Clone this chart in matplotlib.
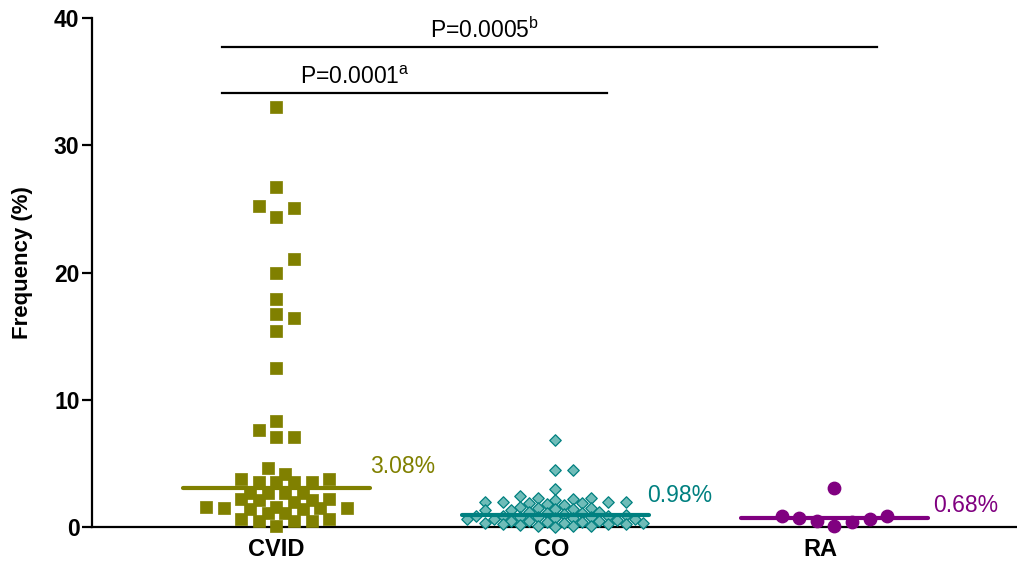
import numpy as np
import matplotlib
matplotlib.use("Agg")
import matplotlib.pyplot as plt

# ---------------- data ----------------
categories = ["CVID", "CO", "RA"]

cvid_values = [33.0, 26.7, 25.2, 25.1, 24.4, 21.1, 20.0, 17.9, 16.7, 16.4, 15.4, 12.5,
               8.3, 7.6, 7.1, 7.1, 4.6, 4.2, 3.8, 3.5, 3.5, 3.5, 3.5, 3.8,
               2.7, 2.7, 2.7, 2.7, 2.2, 2.1, 2.1, 2.2, 2.0, 1.6, 1.5, 1.5,
               1.4, 1.5, 1.6, 1.4, 1.1, 1.1, 0.6, 0.5, 0.5, 0.6, 0.5, 0.1]

co_values = [6.8, 4.5, 4.5, 3.0, 2.4, 2.3, 2.3, 2.2, 2.1, 2.0, 2.0, 2.0, 2.0, 1.9, 1.9,
             1.8, 1.7, 1.6, 1.5, 1.5, 1.4, 1.4, 1.3, 1.3, 1.2, 1.2, 1.1, 1.1, 1.0,
             0.95, 0.9, 0.9, 0.85, 0.8, 0.8, 0.75, 0.7, 0.7, 0.65, 0.6, 0.6, 0.55, 0.5,
             0.5, 0.45, 0.4, 0.4, 0.35, 0.3, 0.3, 0.25, 0.2, 0.2, 0.15, 0.1, 0.1, 0.05, 0.0]

ra_values = [0.86, 0.7, 0.5, 3.06, 0.1, 0.4, 0.6, 0.86]

medians = [3.08, 0.98, 0.68]
median_labels = ["3.08%", "0.98%", "0.68%"]
yticks = [0, 10, 20, 30, 40]
ylabel = "Frequency (%)"
p_labels = [r"P=0.0001$^{\mathrm{a}}$", r"P=0.0005$^{\mathrm{b}}$"]

# ---------------- style ----------------
plt.rcParams['font.family'] = ['Liberation Sans', 'DejaVu Sans']
plt.rcParams['mathtext.fontset'] = 'custom'
plt.rcParams['mathtext.rm'] = 'Liberation Sans'
plt.rcParams['mathtext.it'] = 'Liberation Sans:italic'
plt.rcParams['mathtext.bf'] = 'Liberation Sans:bold'

olive = "#808000"
teal = "#008080"
teal_fill = "#6fbcb8"
purple = "#800080"

fig = plt.figure(figsize=(10.17, 5.65), dpi=100)
ax = fig.add_axes([92/1017, 38/565, 925/1017, 509/565])
tick_pos = [0, 1.0, 1.976]        # category label positions
group_pos = [0, 1.013, 2.027]     # centres of the point clouds
ax.set_xlim(-0.67, 2.69)
ax.set_ylim(0, 40)

# pixel scale factors
fig.canvas.draw()
p0 = ax.transData.transform((0, 0))
p1 = ax.transData.transform((1, 1))
px_x = p1[0] - p0[0]
px_y = p1[1] - p0[1]


def swarm(values, step_px, h_col, h_half):
    """Greedy beeswarm on a half-step grid; returns x offsets in data units.
    Points in the same column need h_col pixels of vertical room,
    points half a step apart need h_half."""
    vals = np.asarray(values, dtype=float)
    order = np.argsort(vals, kind="stable")
    placed = []
    offs = np.zeros(len(vals))
    cand = [0.0]
    for k in range(1, 30):
        cand += [k, -k, k - 0.5, -(k - 0.5)]
    for i in order:
        y = vals[i] * px_y
        for k in cand:
            x = k * step_px
            ok = True
            for (xx, yy) in placed:
                dx = abs(xx - x)
                dy = abs(yy - y)
                if dx < step_px * 0.25 and dy < h_col:
                    ok = False
                    break
                if dx < step_px * 0.99 and dy < h_half:
                    ok = False
                    break
            if ok:
                placed.append((x, y))
                offs[i] = x / px_x
                break
    return offs


step = 17.6
cv_off = swarm(cvid_values, step, 15, 6)
co_off = swarm(co_values, step, 8, 3.5)
ra_off = swarm(ra_values, step, 12, 12)

ax.scatter(group_pos[0] + cv_off, cvid_values, marker='s', s=82, color=olive,
           edgecolor=olive, linewidth=0.5, zorder=3, clip_on=False)
ax.scatter(group_pos[1] + co_off, co_values, marker='D', s=34, facecolor=teal_fill,
           edgecolor=teal, linewidth=0.9, zorder=3, clip_on=False)
ax.scatter(group_pos[2] + ra_off, ra_values, marker='o', s=80, color=purple,
           zorder=3, clip_on=False)

colors = [olive, teal, purple]
for pos, m, c in zip(group_pos, medians, colors):
    ax.plot([pos - 0.34, pos + 0.34], [m, m], color=c, lw=3.0,
            solid_capstyle='round', zorder=4)

label_x = [0.34, 1.345, 2.385]
label_y = [4.25, 1.95, 1.2]
for x, y, t, c in zip(label_x, label_y, median_labels, colors):
    ax.text(x, y, t, color=c, fontsize=16.5, ha='left', va='baseline')

# significance bars
ax.plot([-0.196, 1.2], [34.1, 34.1], color='black', lw=1.6, clip_on=False)
ax.plot([-0.196, 2.18], [37.7, 37.7], color='black', lw=1.6, clip_on=False)
ax.text(0.285, 34.85, p_labels[0], fontsize=16.5, ha='center', va='baseline')
ax.text(0.755, 38.45, p_labels[1], fontsize=16.5, ha='center', va='baseline')

# axes
ax.spines['top'].set_visible(False)
ax.spines['right'].set_visible(False)
ax.spines['left'].set_linewidth(1.6)
ax.spines['bottom'].set_linewidth(1.6)
ax.set_yticks(yticks)
ax.set_yticklabels([str(t) for t in yticks], fontsize=16.5, fontweight='bold')
ax.tick_params(axis='y', length=7, width=1.6, pad=2)
ax.set_xticks(tick_pos)
ax.set_xticklabels(categories, fontsize=17, fontweight='bold')
ax.tick_params(axis='x', length=0, pad=8)
ax.set_ylabel(ylabel, fontsize=16, fontweight='bold')
ax.yaxis.set_label_coords(-0.064, 0.52)

fig.savefig("out.png", dpi=100)
